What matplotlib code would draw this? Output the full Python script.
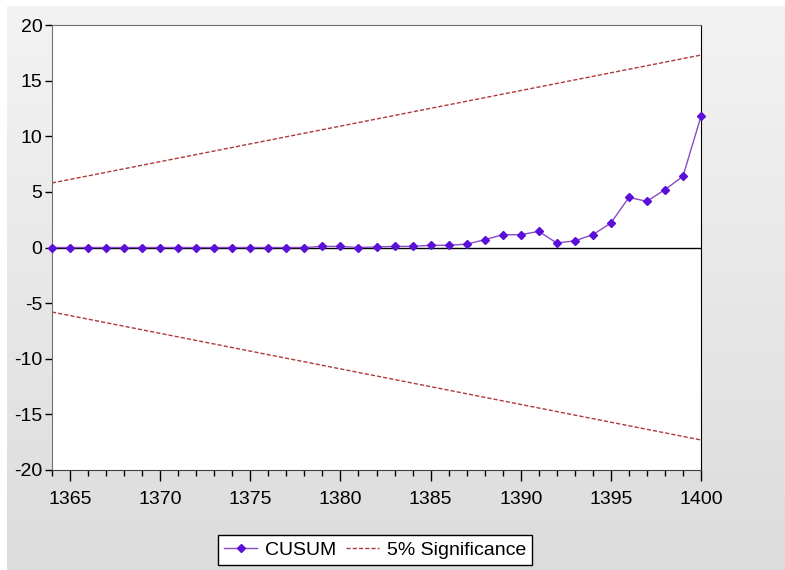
import numpy as np
import matplotlib
matplotlib.use("Agg")
import matplotlib.pyplot as plt

plt.rcParams['font.family'] = ['Liberation Sans', 'DejaVu Sans']
plt.rcParams['axes.unicode_minus'] = False

# CUSUM test, years 1364..1400
years = list(range(1364, 1401))
cusum = [0, 0, 0, 0, 0, 0, 0, 0, 0, 0, 0, 0, 0, 0, 0,
         0.1, 0.1, 0.0, 0.05, 0.1, 0.1, 0.2, 0.2, 0.3, 0.7,
         1.15, 1.15, 1.45, 0.4, 0.6, 1.15, 2.2, 4.5, 4.15, 5.2,
         6.4, 11.8]
bound_years = [1364, 1400]
upper = [5.8, 17.3]
lower = [-5.8, -17.3]

fig = plt.figure(figsize=(7.85, 5.70), dpi=100)
fig.patch.set_facecolor('white')

# gray gradient background
bg = fig.add_axes([7 / 785, 0, 1 - 7 / 785, 564 / 570], zorder=-5)
grad = np.linspace(0, 1, 256).reshape(-1, 1)
bg.imshow(grad, aspect='auto', cmap=matplotlib.colors.LinearSegmentedColormap.from_list(
    'g', ['#f3f3f3', '#dcdcdc']), extent=[0, 1, 0, 1], origin='upper')
bg.axis('off')

ax = fig.add_axes([52 / 785, 100 / 570, 649 / 785, 445 / 570])
ax.set_facecolor('white')

ax.plot(bound_years, upper, ls=(0, (3, 1.5)), color='#b03a3a', lw=1.0, label='5% Significance')
ax.plot(bound_years, lower, ls=(0, (3, 1.5)), color='#b03a3a', lw=1.0)
ax.axhline(0, color='black', lw=1.0, zorder=1)
ax.plot(years, cusum, color='#8a4ac8', lw=1.0, marker='D', ms=4.5,
        mfc='#5a10d8', mec='#5a10d8', label='CUSUM', clip_on=False, zorder=3)

ax.set_xlim(1364, 1400)
ax.set_ylim(-20, 20)
ax.set_xticks(range(1365, 1401, 5))
ax.set_xticks(range(1364, 1401), minor=True)
ax.set_yticks(range(-20, 21, 5))
ax.tick_params(axis='x', which='major', direction='out', length=8, width=1, labelsize=14, pad=7)
ax.tick_params(axis='x', which='minor', direction='out', length=4, width=1)
ax.tick_params(axis='y', direction='out', length=5, width=1, labelsize=14, pad=2)

ax.spines['top'].set_color('#707070')
ax.spines['left'].set_color('#707070')
ax.spines['right'].set_color('black')
ax.spines['bottom'].set_color('#404040')

handles, labels = ax.get_legend_handles_labels()
leg = fig.legend([handles[1], handles[0]], [labels[1], labels[0]], loc='center',
                 bbox_to_anchor=(375 / 785, 20 / 570), ncol=2, fontsize=14,
                 frameon=True, fancybox=False, edgecolor='black', framealpha=1,
                 handlelength=1.7, columnspacing=0.5, handletextpad=0.4,
                 borderpad=0.3)
leg.get_frame().set_linewidth(1.0)

fig.savefig('out.png', dpi=100)
